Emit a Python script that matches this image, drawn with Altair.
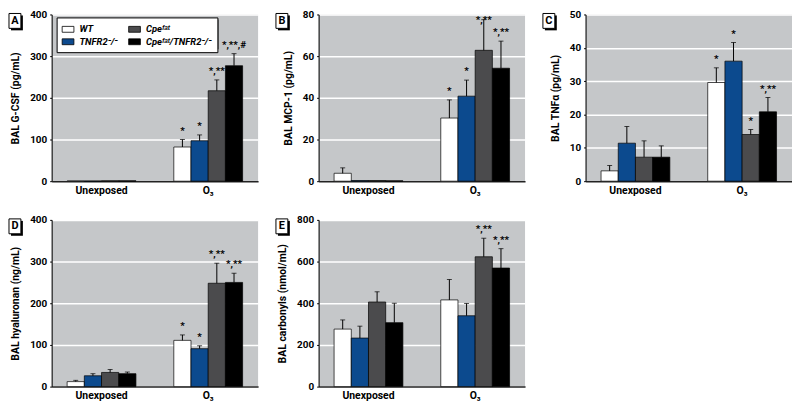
import altair as alt
import pandas as pd
import numpy as np

FONT = "Roboto, Liberation Sans, sans-serif"
NA = float("nan")

groups = ["Unexposed", "O₃"]
series = ["WT", "TNFR2⁻/⁻", "Cpeᶠᵃᵗ", "Cpeᶠᵃᵗ/TNFR2⁻/⁻"]
series_colors = ["#ffffff", "#0c4a8e", "#4b4b4d", "#000000"]

# Panel A: BAL G-CSF (pg/mL)
a_unexp = [0.5, 0.5, 1.0, 1.0]
a_unexp_up = [NA, NA, NA, NA]
a_o3 = [82, 97, 217, 277]
a_o3_up = [100, 111, 243, 306]
a_o3_lab = ["*", "*", "*,**", "*,**,#"]

# Panel B: BAL MCP-1 (pg/mL)
b_unexp = [3.8, 0.3, 0.3, 0.2]
b_unexp_up = [6.4, NA, NA, NA]
b_o3 = [30.3, 40.8, 62.8, 54.2]
b_o3_up = [39, 48.5, 77.5, 67.2]
b_o3_lab = ["*", "*", "*,**", "*,**"]

# Panel C: BAL TNFα (pg/mL)
c_unexp = [3.1, 11.4, 7.2, 7.2]
c_unexp_up = [4.7, 16.4, 12.1, 10.6]
c_o3 = [29.6, 36.0, 14.0, 20.8]
c_o3_up = [34.0, 41.6, 15.5, 25.1]
c_o3_lab = ["*", "*", "*", "*,**"]

# Panel D: BAL hyaluronan (ng/mL)
d_unexp = [12, 26, 34, 31]
d_unexp_up = [15, 31, 41, 35]
d_o3 = [111, 91, 248, 250]
d_o3_up = [124, 98, 296, 272]
d_o3_lab = ["*", "*", "*,**", "*,**"]

# Panel E: BAL carbonyls (nmol/mL)
e_unexp = [276, 233, 406, 307]
e_unexp_up = [320, 290, 455, 400]
e_o3 = [416, 340, 623, 569]
e_o3_up = [514, 399, 712, 662]
e_o3_lab = ["", "", "*,**", "*,**"]

empty_lab = ["", "", "", ""]


def make_df(unexp, unexp_up, o3, o3_up, o3_lab):
    rows = []
    for g, vals, ups, labs in [(groups[0], unexp, unexp_up, empty_lab),
                               (groups[1], o3, o3_up, o3_lab)]:
        for s, v, u, l in zip(series, vals, ups, labs):
            has = not np.isnan(u)
            rows.append({"group": g, "series": s, "value": v,
                         "upper": (u if has else None),
                         "top": (u if has else v), "label": l})
    return pd.DataFrame(rows)


def panel(letter, title, dmax, step, df, legend=False):
    xaxis = alt.Axis(labelAngle=0, domainColor="#222222", domainWidth=1.5,
                     ticks=False, labelFontSize=10.5, labelPadding=4,
                     labelColor="black", labelFontWeight="bold", labelFont=FONT)
    x = alt.X("group:N", sort=groups, title=None,
              scale=alt.Scale(paddingInner=0.355, paddingOuter=0.145), axis=xaxis)
    xo = alt.XOffset("series:N", sort=series,
                     scale=alt.Scale(paddingInner=0, paddingOuter=0))
    yscale = alt.Scale(domain=[0, dmax], nice=False)
    yaxis = alt.Axis(values=list(range(0, dmax + 1, step)), grid=True,
                     gridColor="white", gridWidth=1.5,
                     domainColor="black", domainWidth=1,
                     tickColor="black", tickSize=2,
                     labelFontSize=10, labelFontWeight="bold", labelFont=FONT,
                     labelColor="black", labelPadding=3,
                     titleFont=FONT, titleFontSize=10.5, titleFontWeight="bold",
                     titleColor="black", titlePadding=9)

    def Y(field):
        return alt.Y(field, scale=yscale, title=title, axis=yaxis)

    if legend:
        leg = alt.Legend(orient="none", legendX=5, legendY=3, columns=2, title=None,
                         direction="vertical",
                         fillColor="white", strokeColor="black", padding=5,
                         columnPadding=8, rowPadding=1,
                         symbolType="M-1,-0.5H1V0.5H-1Z", symbolSize=140,
                         symbolStrokeColor="black", symbolStrokeWidth=0.8,
                         labelFont=FONT, labelFontSize=9.5, labelFontWeight="bold",
                         labelFontStyle="italic", labelColor="black", labelOffset=5)
    else:
        leg = None
    color = alt.Color("series:N", scale=alt.Scale(domain=series, range=series_colors),
                      legend=leg)
    base = alt.Chart(df)
    layers = []
    if legend:
        layers.append(alt.Chart(pd.DataFrame({"t": [1]})).mark_rect(fill="black").encode(
            x=alt.value(7), x2=alt.value(168), y=alt.value(5), y2=alt.value(35)))
    bars = base.mark_bar(stroke="black", strokeWidth=0.7).encode(
        x=x, xOffset=xo, y=Y("value:Q"), color=color)
    errs = base.transform_filter("isValid(datum.upper)").mark_rule(
        color="black", strokeWidth=1).encode(
        x=x, xOffset=xo, y=Y("value:Q"), y2="upper:Q")
    caps = base.transform_filter("isValid(datum.upper)").mark_tick(
        color="black", thickness=1, size=5, orient="horizontal").encode(
        x=x, xOffset=xo, y=Y("upper:Q"))
    txt = base.transform_calculate(
        ty=f"min(datum.top, {dmax * 0.915})").mark_text(
        baseline="bottom", dy=-4, fontSize=10, fontWeight="bold",
        font=FONT, color="black").encode(
        x=x, xOffset=xo, y=Y("ty:Q"), text="label:N")
    lab = alt.Chart(pd.DataFrame({"t": [letter]}))
    shadow = lab.mark_rect(fill="black").encode(
        x=alt.value(-41), x2=alt.value(-29), y=alt.value(1), y2=alt.value(16))
    box = lab.mark_rect(fill="white", stroke="black", strokeWidth=1).encode(
        x=alt.value(-43), x2=alt.value(-31), y=alt.value(-1), y2=alt.value(14))
    letter_t = lab.mark_text(fontSize=11, fontWeight="bold", font=FONT, color="black",
                             baseline="middle", align="center").encode(
        x=alt.value(-37), y=alt.value(6.5), text="t:N")
    layers += [bars, errs, caps, txt, shadow, box, letter_t]
    return alt.layer(*layers).properties(width=208, height=168)


pA = panel("A", "BAL G-CSF (pg/mL)", 400, 100,
           make_df(a_unexp, a_unexp_up, a_o3, a_o3_up, a_o3_lab), legend=True)
pB = panel("B", "BAL MCP-1 (pg/mL)", 80, 20,
           make_df(b_unexp, b_unexp_up, b_o3, b_o3_up, b_o3_lab))
pC = panel("C", "BAL TNFα (pg/mL)", 50, 10,
           make_df(c_unexp, c_unexp_up, c_o3, c_o3_up, c_o3_lab))
pD = panel("D", "BAL hyaluronan (ng/mL)", 400, 100,
           make_df(d_unexp, d_unexp_up, d_o3, d_o3_up, d_o3_lab))
pE = panel("E", "BAL carbonyls (nmol/mL)", 800, 200,
           make_df(e_unexp, e_unexp_up, e_o3, e_o3_up, e_o3_lab))

chart = alt.ConcatChart(
    concat=[pA, pB, pC, pD, pE], columns=3,
    spacing=alt.RowColnumber(row=39, column=61), bounds="flush",
).resolve_scale(color="independent", x="independent", y="independent").resolve_legend(
    color="independent").properties(padding=0).configure_view(
    fill="#c5c7c9", stroke=None)

chart.save("out.html", embed_options={"renderer": "svg", "actions": False})
